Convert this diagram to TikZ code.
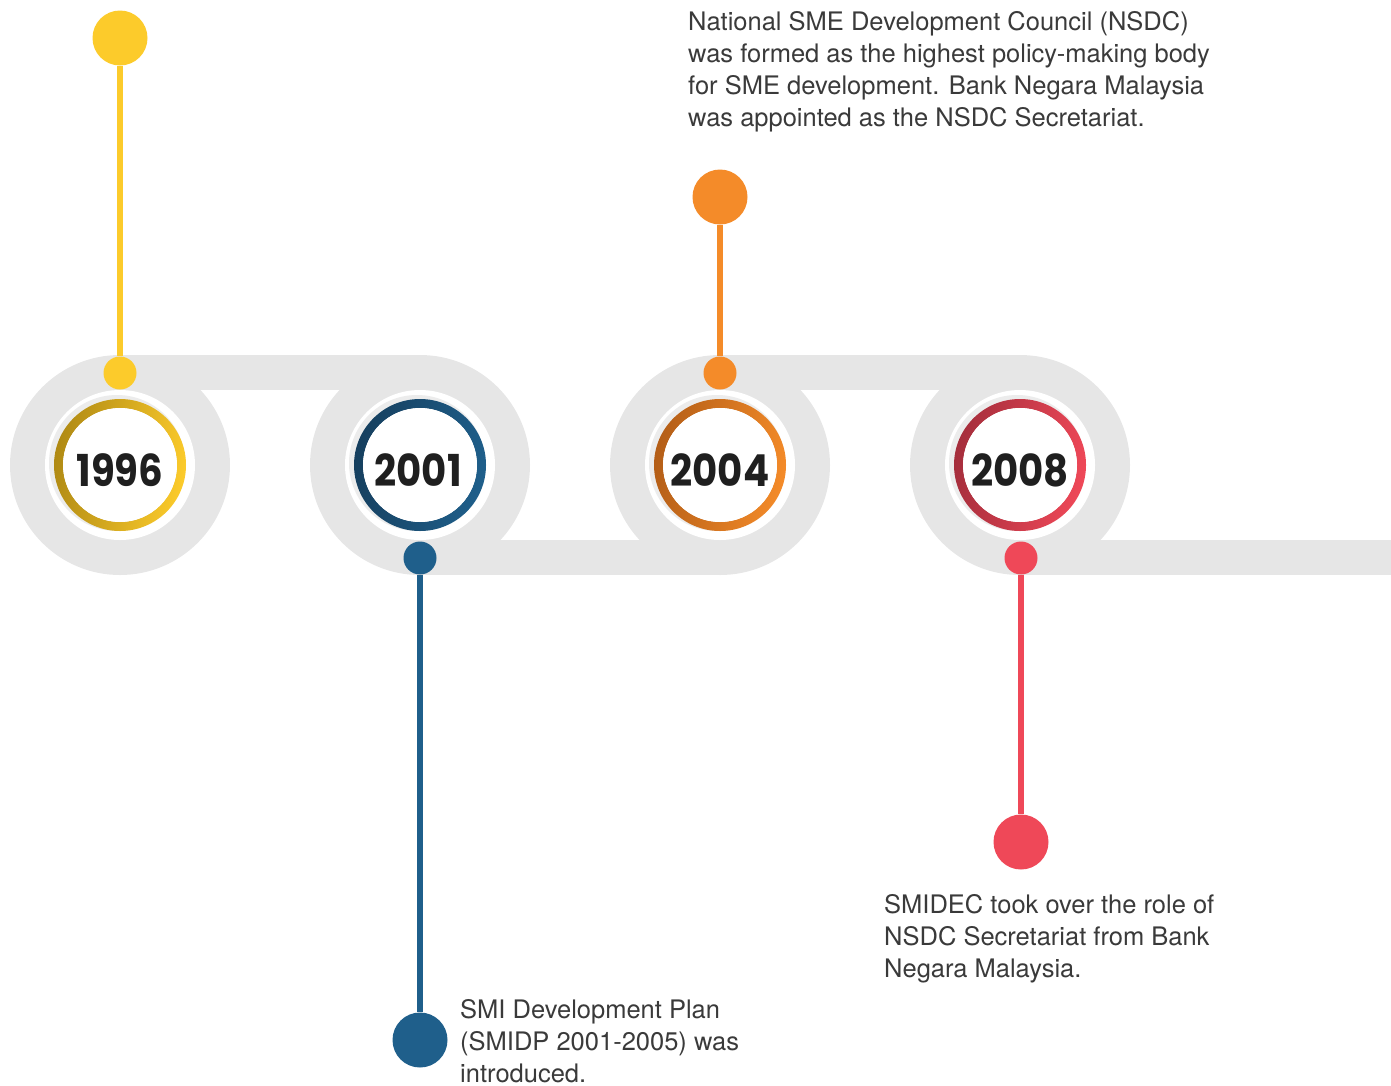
\documentclass[tikz,border=0pt]{standalone}
\usepackage{fontspec}
\setmainfont{TeX Gyre Heros}
\newfontfamily\yearfont{Poppins}[FakeStretch=0.88]
\definecolor{cyel}{HTML}{FCCB2B}
\definecolor{cyeld}{HTML}{B08A14}
\definecolor{cblu}{HTML}{1F5F8B}
\definecolor{cblud}{HTML}{163F5E}
\definecolor{cora}{HTML}{F48B29}
\definecolor{corad}{HTML}{B45E17}
\definecolor{cred}{HTML}{EF4858}
\definecolor{credd}{HTML}{A52E3C}
\definecolor{ctrack}{HTML}{E6E6E6}
\definecolor{chalo}{HTML}{ECECEC}
\definecolor{ctext}{HTML}{3A3A3A}
\tikzset{
  bigdot/.style={circle,fill=#1,minimum size=55pt,inner sep=0pt},
  smalldot/.style={circle,fill=#1,minimum size=33pt,inner sep=0pt},
  stem/.style={draw=#1,line width=6pt},
  yearlbl/.style={font=\yearfont\bfseries\fontsize{44}{44}\selectfont,text=black!88,inner sep=0pt,anchor=base},
  desc/.style={font=\fontsize{25.5}{32}\selectfont,text=ctext,align=left,inner sep=0pt,anchor=north west}
}
\newcommand{\yearring}[3]{% x, main, dark
  \fill[chalo] (#1-3,463) circle (68);
  \shade[even odd rule,left color=#3,middle color=#2,right color=#2,shading angle=80]
    (#1,465) circle (66) (#1,465) circle (57);
  \fill[white] (#1,465) circle (57);
}
\begin{document}
\begin{tikzpicture}[x=1pt,y=-1pt]
\useasboundingbox (0,0) rectangle (1391,1085);
% track
\fill[ctrack] (120,355) rectangle (420,390);
\fill[ctrack] (420,540) rectangle (720,575);
\fill[ctrack] (720,355) rectangle (1020,390);
\fill[ctrack] (1020,540) rectangle (1391,575);
\foreach \cx in {120,420,720,1020}{
  \fill[ctrack] (\cx,465) circle (110);
  \fill[white] (\cx,465) circle (75);
}
% rings
\yearring{120}{cyel}{cyeld}
\yearring{420}{cblu}{cblud}
\yearring{720}{cora}{corad}
\yearring{1020}{cred}{credd}
\node[yearlbl] (y1996) at (120,486) {1996};
\node[yearlbl] (y2001) at (418,486) {2001};
\node[yearlbl] (y2004) at (720,486) {2004};
\node[yearlbl] (y2008) at (1020,486) {2008};
% dots and stems
\node[bigdot=cyel] (b1996) at (120,38) {};
\node[smalldot=cyel] (s1996) at (120,373) {};
\draw[stem=cyel] (b1996.south) -- (s1996.north);
\node[smalldot=cblu] (s2001) at (420,558) {};
\node[bigdot=cblu] (b2001) at (420,1040) {};
\draw[stem=cblu] (s2001.south) -- (b2001.north);
\node[bigdot=cora] (b2004) at (720,197) {};
\node[smalldot=cora] (s2004) at (720,373) {};
\draw[stem=cora] (b2004.south) -- (s2004.north);
\node[smalldot=cred] (s2008) at (1021,558) {};
\node[bigdot=cred] (b2008) at (1021,842) {};
\draw[stem=cred] (s2008.south) -- (b2008.north);
% texts
\node[desc] (t2004) at (688,11) {National SME Development Council (NSDC)\\was formed as the highest policy-making body\\for SME development. Bank Negara Malaysia\\was appointed as the NSDC Secretariat.};
\node[desc] (t2008) at (884,894) {SMIDEC took over the role of\\NSDC Secretariat from Bank\\Negara Malaysia.};
\node[desc] (t2001) at (460,999) {SMI Development Plan\\(SMIDP 2001-2005) was\\introduced.};
\end{tikzpicture}
\end{document}
